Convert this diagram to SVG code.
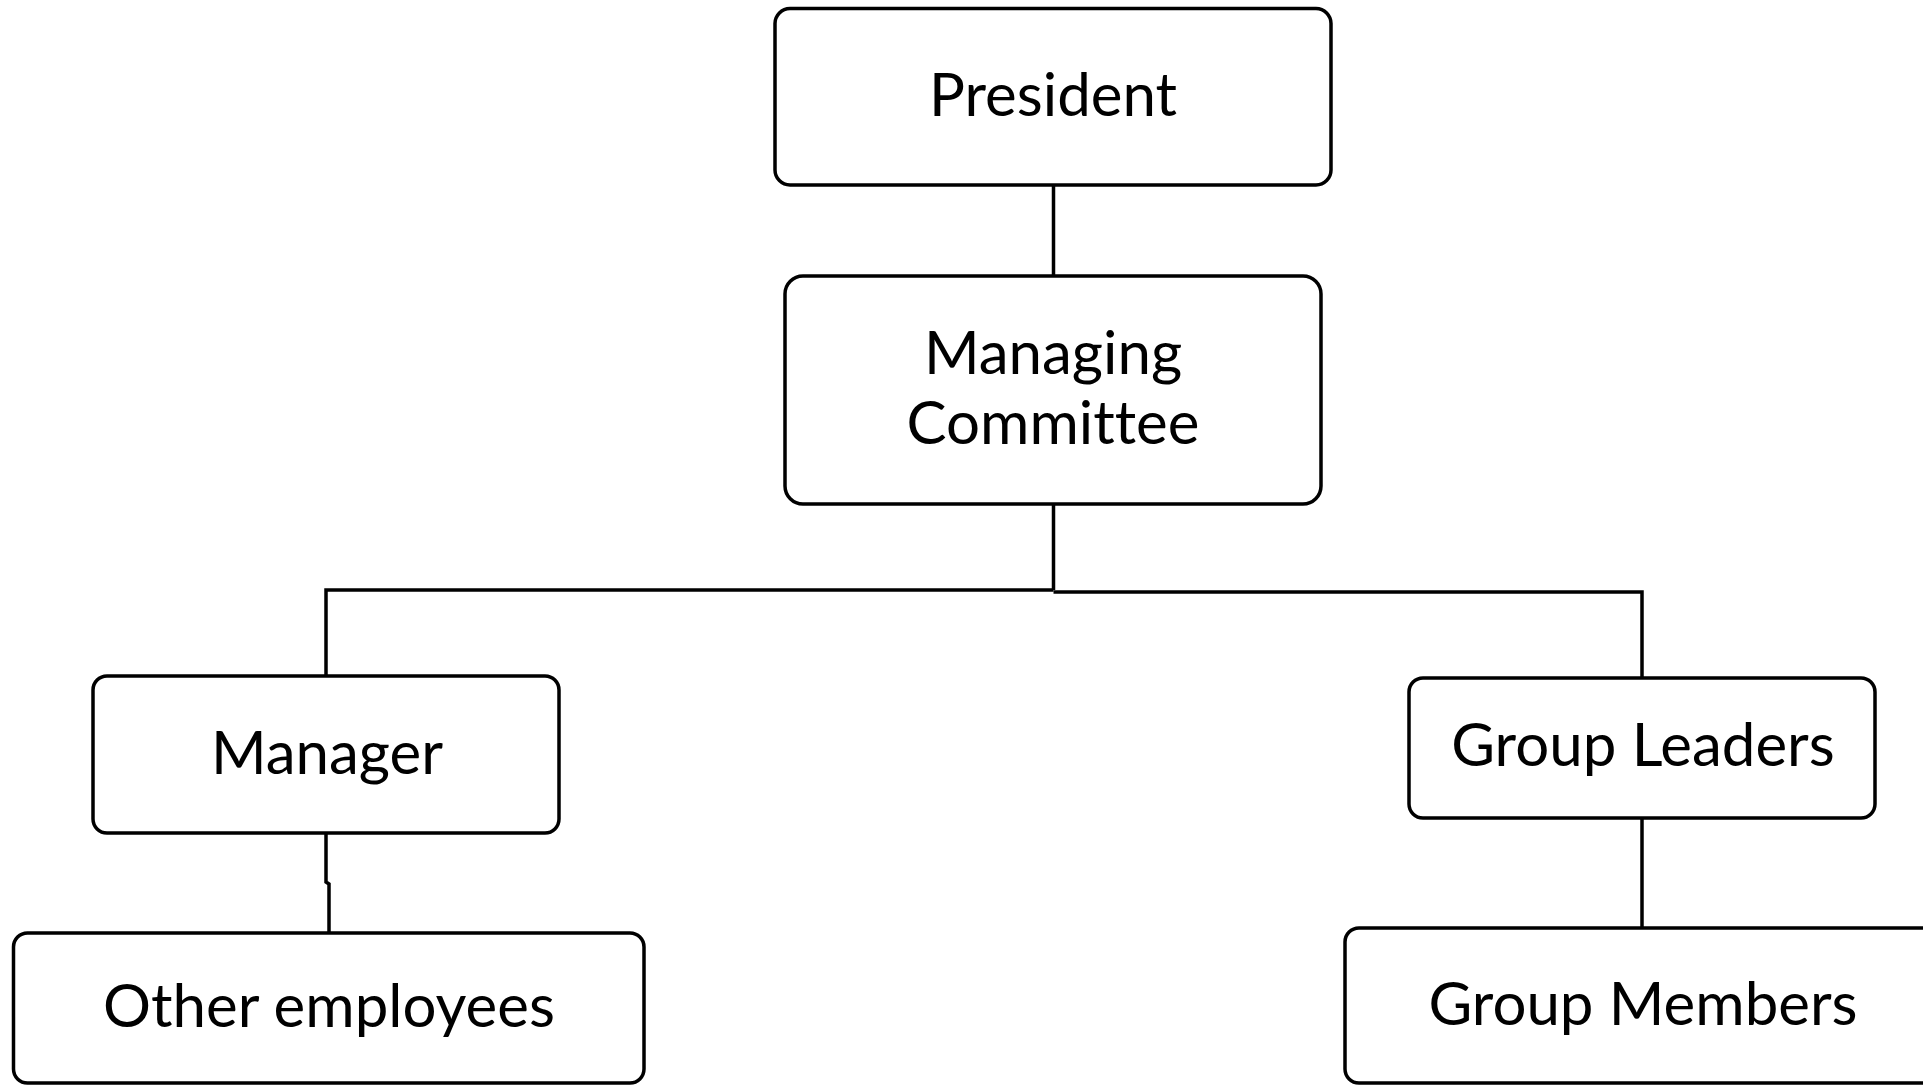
<svg xmlns="http://www.w3.org/2000/svg" width="1923" height="1085" viewBox="0 0 1923 1085">
  <style>
    .box { fill: #ffffff; stroke: #000000; stroke-width: 3.5; }
    .lbl { font-family: Lato, "Open Sans", "Liberation Sans", sans-serif; font-size: 60px; fill: #000000; text-anchor: middle; font-variant-ligatures: none; font-feature-settings: "liga" 0, "clig" 0; }
    .conn { fill: none; stroke: #000000; stroke-width: 3.5; }
  </style>
  <rect width="1923" height="1085" fill="#ffffff"/>
  <g id="connectors">
    <path class="conn" d="M1053.5 185 V590"/>
    <path class="conn" d="M1053.5 590 H326 V676"/>
    <path class="conn" d="M1053.5 592 H1642 V678"/>
    <path class="conn" d="M326 833 V882 L329 884 V933"/>
    <path class="conn" d="M1642 818 V928"/>
  </g>
  <g id="president">
    <rect class="box" x="775" y="8.5" width="556" height="176.5" rx="15"/>
    <text class="lbl" x="1053" y="116">President</text>
  </g>
  <g id="managing-committee">
    <rect class="box" x="785" y="276" width="536" height="228" rx="18"/>
    <text class="lbl" x="1053" y="374">Managing</text>
    <text class="lbl" x="1053" y="444">Committee</text>
  </g>
  <g id="manager">
    <rect class="box" x="93" y="676" width="466" height="157" rx="14"/>
    <text class="lbl" x="327" y="774">Manager</text>
  </g>
  <g id="other-employees">
    <rect class="box" x="13.5" y="933" width="630.5" height="150" rx="14"/>
    <text class="lbl" x="329" y="1027">Other employees</text>
  </g>
  <g id="group-leaders">
    <rect class="box" x="1409" y="678" width="466" height="140" rx="14"/>
    <text class="lbl" x="1643" y="766">Group Leaders</text>
  </g>
  <g id="group-members">
    <rect class="box" x="1345" y="928" width="620" height="155" rx="14"/>
    <text class="lbl" x="1643" y="1025">Group Members</text>
  </g>
</svg>
